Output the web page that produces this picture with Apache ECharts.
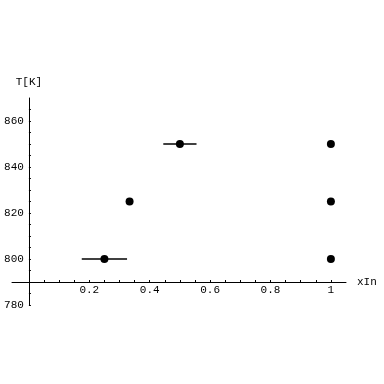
<!DOCTYPE html>
<html>
<head>
<meta charset="utf-8">
<script src="https://cdn.jsdelivr.net/npm/echarts@6/dist/echarts.min.js"></script>
<style>html,body{margin:0;padding:0;background:#fff;}#c{width:384px;height:384px;}</style>
</head>
<body>
<div id="c"></div>
<script>
// data
var xIn   = [0.25, 1/3, 0.5, 1, 1, 1];
var T     = [800, 825, 850, 800, 825, 850];
var xErr  = [0.075, 0, 0.055, 0, 0, 0];
var xTickLabels = [0.2, 0.4, 0.6, 0.8, 1];
var xMinorTicks = [0.05,0.1,0.15,0.2,0.25,0.3,0.35,0.4,0.45,0.5,0.55,0.6,0.65,0.7,0.75,0.8,0.85,0.9,0.95,1];
var yTickLabels = [780, 800, 820, 840, 860];
var yMinorTicks = [780,785,795,800,805,810,815,820,825,830,835,840,845,850,855,860,865];
var xRange = [-0.056, 1.05];
var yRange = [780, 870];
var X0 = 0;   // where the y axis crosses
var Y0 = 790; // where the x axis crosses

var font = 'Liberation Mono';
var pts = xIn.map(function(x,i){ return [x, T[i]]; });
var bars = xIn.map(function(x,i){ return [x - xErr[i], x + xErr[i], T[i]]; }).filter(function(d){ return d[1] > d[0]; });

var chart = echarts.init(document.getElementById('c'), null, {renderer:'canvas'});
var option = {
  animation: false,
  grid: {left: 12, right: 38, top: 98, bottom: 79, containLabel: false, outerBoundsMode: 'none'},
  xAxis: [{
    type: 'value', min: xRange[0], max: xRange[1], position: 'bottom', offset: 0,
    axisLine: {show: true, onZero: false, lineStyle: {color: '#000', width: 1}},
    axisTick: {show: true, inside: true, length: 2, customValues: xMinorTicks, lineStyle: {color: '#000'}},
    axisLabel: {show: true, customValues: xTickLabels, margin: 3, color: '#000', fontFamily: font, fontSize: 11,
      formatter: function(v){ return String(Math.round(v*10)/10); }},
    splitLine: {show: false},
    name: 'xIn', nameLocation: 'end', nameGap: 11,
    nameTextStyle: {color: '#000', fontFamily: font, fontSize: 11}
  }],
  yAxis: [{
    type: 'value', min: yRange[0], max: yRange[1], position: 'left', offset: 0,
    axisLine: {show: true, onZero: false, lineStyle: {color: '#000', width: 1}},
    axisTick: {show: true, inside: true, length: 2, customValues: yMinorTicks, lineStyle: {color: '#000'}},
    axisLabel: {show: true, customValues: yTickLabels, margin: 5, color: '#000', fontFamily: font, fontSize: 11},
    splitLine: {show: false},
    name: 'T[K]', nameLocation: 'end', nameGap: 10,
    nameTextStyle: {color: '#000', fontFamily: font, fontSize: 11, align: 'center'}
  }],
  series: [{
    type: 'custom',
    data: bars,
    renderItem: function(params, api){
      var a = api.coord([api.value(0), api.value(2)]);
      var b = api.coord([api.value(1), api.value(2)]);
      return {type: 'line', shape: {x1: a[0], y1: a[1], x2: b[0], y2: b[1]}, style: {stroke: '#000', lineWidth: 1.4}};
    },
    encode: {x: [0,1], y: 2},
    z: 2
  }, {
    type: 'scatter',
    data: pts,
    symbol: 'circle', symbolSize: 8,
    itemStyle: {color: '#000', opacity: 1},
    emphasis: {disabled: true},
    z: 3
  }]
};
chart.setOption(option);
// move axes to cross at (X0, Y0) using the library's own scales
var cross = chart.convertToPixel({gridIndex: 0}, [X0, Y0]);
var corner = chart.convertToPixel({gridIndex: 0}, [xRange[0], yRange[0]]);
chart.setOption({
  xAxis: [{offset: -(corner[1] - cross[1])}],
  yAxis: [{offset: -(cross[0] - corner[0])}]
});
</script>
</body>
</html>
